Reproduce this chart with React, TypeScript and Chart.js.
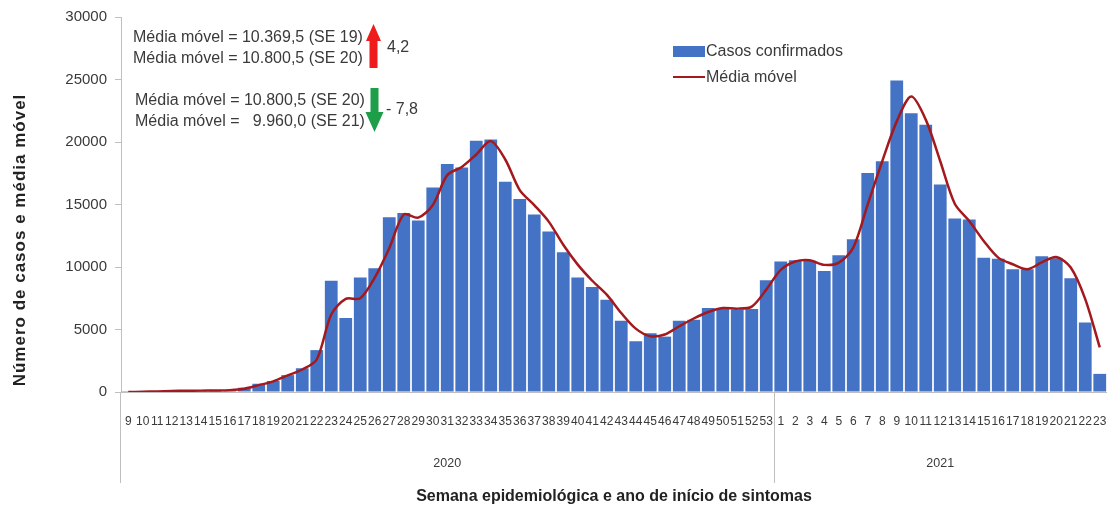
import React, { useEffect, useRef } from "react";
import { Chart, registerables } from "chart.js";

Chart.register(...registerables);

const weeks2020 = [
  "9", "10", "11", "12", "13", "14", "15", "16", "17", "18", "19", "20", "21", "22", "23",
  "24", "25", "26", "27", "28", "29", "30", "31", "32", "33", "34", "35", "36", "37", "38",
  "39", "40", "41", "42", "43", "44", "45", "46", "47", "48", "49", "50", "51", "52", "53",
];
const weeks2021 = [
  "1", "2", "3", "4", "5", "6", "7", "8", "9", "10", "11", "12", "13", "14", "15", "16",
  "17", "18", "19", "20", "21", "22", "23",
];
const years = ["2020", "2021"];

const cases2020 = [
  10, 20, 60, 90, 110, 120, 130, 140, 340, 660, 880, 1350, 1900, 3350, 8900,
  5930, 9170, 9910, 13980, 14330, 13720, 16370, 18240, 17970, 20100, 20200, 16820, 15440, 14210, 12840,
  11190, 9170, 8400, 7390, 5710, 4060, 4700, 4430, 5710, 5790, 6720, 6680, 6600, 6650, 8950,
];
const cases2021 = [
  10440, 10550, 10500, 9690, 10940, 12220, 17530, 18460, 24920, 22310, 21390, 16600, 13890, 13810, 10750, 10670,
  9820, 9820, 10860, 10700, 9100, 5570, 1450,
];

const movingAvg2020 = [
  0, 20, 50, 80, 100, 110, 120, 150, 260, 550, 850, 1330, 1800, 2600, 6200,
  7450, 7500, 9150, 11500, 14200, 13950, 14950, 17350, 18000, 19000, 20070, 18600, 16150, 14950, 13630,
  11780, 10190, 8900, 7790, 6320, 5070, 4460, 4600, 5260, 5880, 6400, 6720, 6670, 6830, 8190,
];
const movingAvg2021 = [
  9770, 10440, 10540, 10170, 10350, 11550, 15010, 18460, 21650, 23640, 21790, 18460, 15060, 13680, 12080, 10750,
  10220, 9820, 10370, 10800, 9960, 7430, 3570,
];

const yMin = 0;
const yMax = 30000;
const yStep = 5000;

const seriesNames = ["Casos confirmados", "Média móvel"];
const upLines = ["Média móvel = 10.369,5 (SE 19)", "Média móvel = 10.800,5 (SE 20)"];
const upChange = "4,2";
const downLines = ["Média móvel = 10.800,5 (SE 20)", "Média móvel =   9.960,0 (SE 21)"];
const downChange = "- 7,8";
const xTitle = "Semana epidemiológica e ano de início de sintomas";
const yTitle = "Número de casos e média móvel";

const FONT = '"Liberation Sans", Arial, sans-serif';
const BAR = "#4472C4";
const LINE = "#A3191D";
const AXIS = "#BFBFBF";
const TEXT = "#3A3A3A";

export default function App() {
  const ref = useRef<HTMLCanvasElement>(null);

  useEffect(() => {
    const labels = [...weeks2020, ...weeks2021];
    const cases = [...cases2020, ...cases2021];
    const avg = [...movingAvg2020, ...movingAvg2021];

    const overlay = {
      id: "overlay",
      afterDraw(chart: any) {
        const ctx = chart.ctx as CanvasRenderingContext2D;
        const x = chart.scales.x;
        const area = chart.chartArea;
        const n2020 = weeks2020.length;
        const step = x.getPixelForValue(1) - x.getPixelForValue(0);
        const firstEdge = x.getPixelForValue(0) - step / 2;
        const divider = x.getPixelForValue(n2020 - 1) + step / 2;
        const lastEdge = x.getPixelForValue(labels.length - 1) + step / 2;
        const bottom = 483;
        ctx.save();
        // axis extensions
        ctx.strokeStyle = AXIS;
        ctx.lineWidth = 1;
        ctx.beginPath();
        ctx.moveTo(Math.round(area.left) - 0.5, area.bottom);
        ctx.lineTo(Math.round(area.left) - 0.5, bottom);
        ctx.moveTo(Math.round(divider) + 0.5, area.bottom);
        ctx.lineTo(Math.round(divider) + 0.5, bottom);
        ctx.stroke();

        // year labels
        ctx.fillStyle = TEXT;
        ctx.font = `12.5px ${FONT}`;
        ctx.textAlign = "center";
        ctx.textBaseline = "middle";
        ctx.fillText(years[0], (firstEdge + divider) / 2, 464);
        ctx.fillText(years[1], (divider + lastEdge) / 2, 464);

        // axis titles
        ctx.fillStyle = "#222";
        ctx.font = `bold 16px ${FONT}`;
        ctx.fillText(xTitle, (area.left + area.right) / 2, 497);
        ctx.save();
        ctx.translate(20, 240);
        ctx.rotate(-Math.PI / 2);
        ctx.font = `bold 17px ${FONT}`;
        (ctx as any).letterSpacing = "1px";
        ctx.fillText(yTitle, 0, 0);
        ctx.restore();

        // legend
        ctx.fillStyle = BAR;
        ctx.fillRect(673, 46, 32, 11);
        ctx.strokeStyle = LINE;
        ctx.lineWidth = 2;
        ctx.beginPath();
        ctx.moveTo(673, 77);
        ctx.lineTo(705, 77);
        ctx.stroke();
        ctx.fillStyle = TEXT;
        ctx.font = `16px ${FONT}`;
        ctx.textAlign = "left";
        ctx.fillText(seriesNames[0], 706, 52);
        ctx.fillText(seriesNames[1], 706, 78);

        // annotations
        ctx.fillText(upLines[0], 133, 38);
        ctx.fillText(upLines[1], 133, 59);
        ctx.fillText(downLines[0], 135, 101);
        ctx.fillText(downLines[1], 135, 122);
        ctx.fillText(upChange, 387, 48);
        ctx.fillText(downChange, 386, 110);

        // red up arrow
        ctx.fillStyle = "#EE1C1C";
        ctx.beginPath();
        ctx.moveTo(373.5, 24);
        ctx.lineTo(381, 41);
        ctx.lineTo(377.5, 41);
        ctx.lineTo(377.5, 68);
        ctx.lineTo(369.5, 68);
        ctx.lineTo(369.5, 41);
        ctx.lineTo(366, 41);
        ctx.closePath();
        ctx.fill();

        // green down arrow
        ctx.fillStyle = "#1E9E48";
        ctx.beginPath();
        ctx.moveTo(370.5, 88);
        ctx.lineTo(378.5, 88);
        ctx.lineTo(378.5, 112);
        ctx.lineTo(383.5, 112);
        ctx.lineTo(374.5, 132);
        ctx.lineTo(365.5, 112);
        ctx.lineTo(370.5, 112);
        ctx.closePath();
        ctx.fill();
        ctx.restore();
      },
    };

    const chart = new Chart(ref.current as HTMLCanvasElement, {
      type: "bar",
      data: {
        labels,
        datasets: [
          {
            type: "line",
            label: seriesNames[1],
            data: avg,
            borderColor: LINE,
            borderWidth: 2.5,
            pointRadius: 0,
            tension: 0.3,
            order: 0,
          } as any,
          {
            type: "bar",
            label: seriesNames[0],
            data: cases,
            backgroundColor: BAR,
            barPercentage: 0.88,
            categoryPercentage: 1,
            order: 1,
          },
        ],
      },
      options: {
        animation: false,
        responsive: true,
        maintainAspectRatio: false,
        layout: { padding: { top: 16, left: 0, right: 0, bottom: 0 } },
        plugins: { legend: { display: false }, tooltip: { enabled: false } },
        scales: {
          x: {
            grid: { display: false, drawTicks: false },
            border: { color: AXIS },
            ticks: {
              autoSkip: false,
              maxRotation: 0,
              minRotation: 0,
              padding: 22,
              color: TEXT,
              font: { size: 12, family: FONT },
            },
            afterFit: (s: any) => {
              s.height = 118;
              s.paddingLeft = 0;
              s.paddingRight = 0;
            },
          },
          y: {
            min: yMin,
            max: yMax,
            grid: { drawOnChartArea: false, drawTicks: true, tickLength: 6, color: AXIS },
            border: { color: AXIS },
            ticks: {
              stepSize: yStep,
              padding: 8,
              color: TEXT,
              font: { size: 15, family: FONT },
              callback: (v: any) => String(v),
            },
            afterFit: (s: any) => {
              s.width = 121;
            },
          },
        },
      },
      plugins: [overlay],
    });
    return () => chart.destroy();
  }, []);

  return (
    <div style={{ position: "absolute", left: 0, top: 0, width: 1107, height: 510, background: "#fff" }}>
      <canvas ref={ref} />
    </div>
  );
}
